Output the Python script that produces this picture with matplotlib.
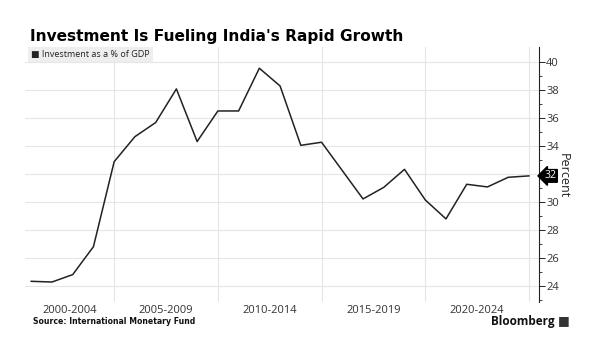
import matplotlib
matplotlib.use("Agg")
import matplotlib.pyplot as plt
from matplotlib.ticker import FuncFormatter
import numpy as np

years = list(range(2000, 2025))
investment = [24.31, 24.26, 24.79, 26.79, 32.88, 34.67, 35.68, 38.09, 34.32, 36.51,
              36.51, 39.57, 38.30, 34.05, 34.27, 32.24, 30.21, 31.04, 32.33, 30.14,
              28.78, 31.26, 31.07, 31.76, 31.86]
period_labels = ["2000-2004", "2005-2009", "2010-2014", "2015-2019", "2020-2024"]
y_ticks = [24, 26, 28, 30, 32, 34, 36, 38, 40]

plt.rcParams['font.family'] = ['Open Sans', 'DejaVu Sans']

fig = plt.figure(figsize=(6, 3.51), dpi=100)
ax = fig.add_axes([25/600, 1-301.7/351, (539.3-25)/600, (301.7-47.3)/351])

# plot data at year-end positions
xpos = [y + 1 for y in years]
ax.plot(xpos, investment, color='#222222', lw=1.1, zorder=3)

ax.set_xlim(2000.7, 2025.5)
ax.set_ylim(22.85, 41.07)

# gridlines
for yv in y_ticks:
    ax.axhline(yv, color='#e6e6e6', lw=0.8, zorder=1)
for xv in [2005, 2010, 2015, 2020, 2025]:
    ax.axvline(xv, color='#e6e6e6', lw=0.8, zorder=1)

for s in ['top', 'left', 'bottom']:
    ax.spines[s].set_visible(False)
ax.spines['right'].set_color('#222222')
ax.spines['right'].set_linewidth(0.8)

last_val = investment[-1]
ax.yaxis.tick_right()
ax.set_yticks(y_ticks)
ax.yaxis.set_major_formatter(FuncFormatter(
    lambda v, p: '' if abs(v - last_val) < 0.6 else f"{v:g}"))
ax.set_yticks(np.arange(23, 41, 1), minor=True)
ax.tick_params(axis='y', which='major', length=4, width=0.7, color='#222222',
               labelsize=8, labelcolor='#333333', pad=1)
ax.tick_params(axis='y', which='minor', length=2, width=0.6, color='#222222')

# x labels centered in visible period
ax.set_xticks([])
starts = [2000.7, 2005, 2010, 2015, 2020]
ends = [2005, 2010, 2015, 2020, 2025]
for lab, s, e in zip(period_labels, starts, ends):
    ax.text((s + e) / 2, -0.012, lab, transform=ax.get_xaxis_transform(),
            ha='center', va='top', fontsize=8, color='#333333')

fig.text(563/600, 1-176/351, 'Percent', rotation=270, fontsize=9, color='#222222',
         ha='center', va='center')

# last value label
ax.text(2025.5 + 0.25, last_val, f"{round(last_val)}", color='white',
        fontsize=7.5, ha='left', va='center',
        bbox=dict(boxstyle='larrow,pad=0.08', fc='black', ec='black'),
        clip_on=False, zorder=5)

# legend box
ax.text(2001.0, 40.55, "\u25A0 Investment as a % of GDP", fontsize=6.5, color='#222222',
        ha='left', va='center',
        bbox=dict(boxstyle='square,pad=0.35', fc='#eeeeee', ec='none'), zorder=4)

fig.text(30/600, 1-37/351, "Investment Is Fueling India's Rapid Growth",
         fontsize=11.1, fontweight='bold', ha='left', va='center', color='black',
         family='DejaVu Sans')
fig.text(33/600, 1-322/351, "Source: International Monetary Fund",
         fontsize=5.6, fontweight='bold', ha='left', va='center', color='#111111',
         family='DejaVu Sans')
fig.text(555/600, 1-321/351, "Bloomberg", fontsize=8.5, fontweight='bold',
         ha='right', va='center', color='#111111')
fig.text(564/600, 1-321/351, "\u25A0", fontsize=9, ha='center', va='center', color='#333333')

fig.savefig("out.png", dpi=100, facecolor='white')
